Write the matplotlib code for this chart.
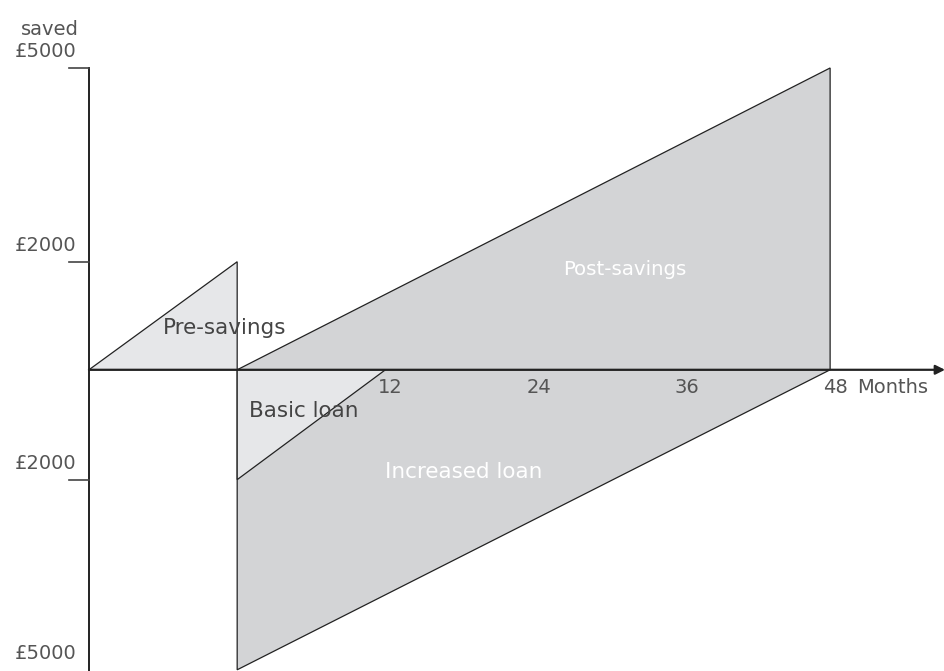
import matplotlib
matplotlib.use("Agg")
import matplotlib.pyplot as plt
from matplotlib.patches import Polygon

# schematic values (months relative to loan start, pounds on a schematic scale)
start_month = -12
loan_month = 0
basic_end = 12
end_month = 48
pre_savings_top = 1790      # drawn at the "£2000" tick
post_savings_top = 5000
basic_loan_bottom = -1820   # drawn at the lower "£2000" tick
increased_loan_bottom = -4970

month_ticks = [12, 24, 36, 48]
y_tick_pos = [5000, 1790, -1820, -4970]
y_tick_labels = ["£5000", "£2000", "£2000", "£5000"]

light = "#e6e7e9"
dark = "#d3d4d6"
txt = "#555555"

fig = plt.figure(figsize=(9.45, 6.71), dpi=100)
ax = fig.add_axes([0, 0, 1, 1])
ax.set_xlim(-19.2, 57.3)
ax.set_ylim(-4990, 6126)
ax.axis("off")

shapes = [
    ([(start_month, 0), (loan_month, pre_savings_top), (loan_month, 0)], light),
    ([(loan_month, 0), (end_month, post_savings_top), (end_month, 0)], dark),
    ([(loan_month, 0), (loan_month, increased_loan_bottom), (end_month, 0)], dark),
    ([(loan_month, 0), (loan_month, basic_loan_bottom), (basic_end, 0)], light),
]
for pts, c in shapes:
    ax.add_patch(Polygon(pts, closed=True, facecolor=c, edgecolor="#222222", lw=0.9))

# axes
ax.plot([start_month, start_month], [ax.get_ylim()[0], post_savings_top], color="#222222", lw=1.4)
ax.annotate("", xy=(57.3, 0), xytext=(start_month, 0),
            arrowprops=dict(arrowstyle="-|>", color="#222222", lw=1.6, mutation_scale=14,
                            shrinkA=0, shrinkB=0))
for yp, lab in zip(y_tick_pos, y_tick_labels):
    if yp > increased_loan_bottom:
        ax.plot([start_month - 1.6, start_month], [yp, yp], color="#444444", lw=1.2)
    ax.text(start_month - 1.0, yp + 110, lab, ha="right", va="bottom", fontsize=14, color=txt)
ax.text(start_month - 3.2, 5480, "saved", ha="center", va="bottom", fontsize=14, color=txt)

for m in month_ticks:
    ax.text(m + 0.4, -140, str(m), ha="center", va="top", fontsize=14, color=txt)
ax.text(end_month + 2.2, -140, "Months", ha="left", va="top", fontsize=14, color=txt)

ax.text(-1, 700, "Pre-savings", ha="center", va="center", fontsize=15.5, color="#444444")
ax.text(31.4, 1660, "Post-savings", ha="center", va="center", fontsize=14.2, color="white")
ax.text(5.4, -680, "Basic loan", ha="center", va="center", fontsize=15.5, color="#444444")
ax.text(18.3, -1690, "Increased loan", ha="center", va="center", fontsize=15.5, color="white")

fig.savefig("out.png", dpi=100)
